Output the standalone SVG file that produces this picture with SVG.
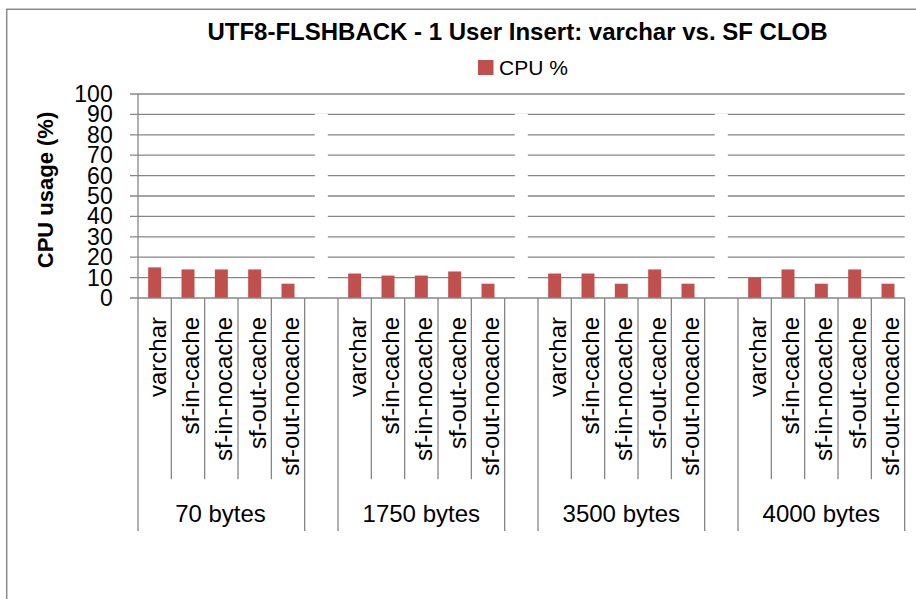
<svg xmlns="http://www.w3.org/2000/svg" width="916" height="599" viewBox="0 0 916 599">
<style>
.grid{stroke:#868686;stroke-width:1.3;fill:none}
.sep{stroke:#868686;stroke-width:1.3;fill:none}
.bar{fill:#C0504D}
.gap{fill:#FFFFFF}
.t{font-family:"Liberation Sans",Arial,sans-serif;fill:#000}
.ylab{font-size:23px;text-anchor:end}
.item{font-size:24px;text-anchor:end}
.grp{font-size:24px;text-anchor:middle}
</style>
<rect x="0" y="0" width="916" height="599" fill="#FFFFFF"/>
<path d="M6.7,599 V9.3 H916" stroke="#8a8a8a" stroke-width="1.5" fill="none"/>

<g id="title"><text class="t" x="517.5" y="40" font-size="24" font-weight="bold" text-anchor="middle">UTF8-FLSHBACK - 1 User Insert: varchar vs. SF CLOB</text></g>

<g id="legend">
<rect x="478" y="60" width="15.5" height="15" fill="#C0504D"/>
<text class="t" x="499" y="75" font-size="21">CPU %</text>
</g>

<g id="gridlines">
<path class="grid" d="M130,94 H904.7 M130,114.4 H904.7 M130,134.8 H904.7 M130,155.2 H904.7 M130,175.6 H904.7 M130,196 H904.7 M130,216.4 H904.7 M130,236.8 H904.7 M130,257.2 H904.7 M130,277.6 H904.7"/>
</g>

<g id="gaps">
<rect class="gap" x="314.83" y="113.6" width="13" height="184"/>
<rect class="gap" x="514.83" y="113.6" width="13" height="184"/>
<rect class="gap" x="714.83" y="113.6" width="13" height="184"/>
</g>

<g id="bars">
<rect class="bar" x="148.17" y="267.4" width="13" height="30.6"/>
<rect class="bar" x="181.5" y="269.44" width="13" height="28.56"/>
<rect class="bar" x="214.83" y="269.44" width="13" height="28.56"/>
<rect class="bar" x="248.17" y="269.44" width="13" height="28.56"/>
<rect class="bar" x="281.5" y="283.72" width="13" height="14.28"/>

<rect class="bar" x="348.17" y="273.52" width="13" height="24.48"/>
<rect class="bar" x="381.5" y="275.56" width="13" height="22.44"/>
<rect class="bar" x="414.83" y="275.56" width="13" height="22.44"/>
<rect class="bar" x="448.17" y="271.48" width="13" height="26.52"/>
<rect class="bar" x="481.5" y="283.72" width="13" height="14.28"/>

<rect class="bar" x="548.17" y="273.52" width="13" height="24.48"/>
<rect class="bar" x="581.5" y="273.52" width="13" height="24.48"/>
<rect class="bar" x="614.83" y="283.72" width="13" height="14.28"/>
<rect class="bar" x="648.17" y="269.44" width="13" height="28.56"/>
<rect class="bar" x="681.5" y="283.72" width="13" height="14.28"/>

<rect class="bar" x="748.17" y="277.6" width="13" height="20.4"/>
<rect class="bar" x="781.5" y="269.44" width="13" height="28.56"/>
<rect class="bar" x="814.83" y="283.72" width="13" height="14.28"/>
<rect class="bar" x="848.17" y="269.44" width="13" height="28.56"/>
<rect class="bar" x="881.5" y="283.72" width="13" height="14.28"/>
</g>

<g id="axes">
<path class="sep" d="M130,298 H904.7 M138,94 V298"/>
<path class="sep" d="M138,298 V531 M304.67,298 V531 M338,298 V531 M504.67,298 V531 M538,298 V531 M704.67,298 V531 M738,298 V531 M904.67,298 V531"/>
<path class="sep" d="M171.33,298 V479.3 M204.67,298 V479.3 M238,298 V479.3 M271.33,298 V479.3 M371.33,298 V479.3 M404.67,298 V479.3 M438,298 V479.3 M471.33,298 V479.3 M571.33,298 V479.3 M604.67,298 V479.3 M638,298 V479.3 M671.33,298 V479.3 M771.33,298 V479.3 M804.67,298 V479.3 M838,298 V479.3 M871.33,298 V479.3"/>
</g>

<g id="y-labels" class="t ylab">
<text x="112.7" y="102">100</text>
<text x="112.7" y="122.4">90</text>
<text x="112.7" y="142.8">80</text>
<text x="112.7" y="163.2">70</text>
<text x="112.7" y="183.6">60</text>
<text x="112.7" y="204">50</text>
<text x="112.7" y="224.4">40</text>
<text x="112.7" y="244.8">30</text>
<text x="112.7" y="265.2">20</text>
<text x="112.7" y="285.6">10</text>
<text x="112.7" y="306">0</text>
</g>

<g id="y-title"><text class="t" transform="translate(53,190) rotate(-90)" font-size="22" font-weight="bold" text-anchor="middle">CPU usage (%)</text></g>

<g id="item-labels" class="t item">
<text transform="translate(165.5,317) rotate(-90)">varchar</text>
<text transform="translate(198.8,317) rotate(-90)">sf-in-cache</text>
<text transform="translate(232.1,317) rotate(-90)">sf-in-nocache</text>
<text transform="translate(265.5,317) rotate(-90)">sf-out-cache</text>
<text transform="translate(298.8,317) rotate(-90)">sf-out-nocache</text>

<text transform="translate(365.5,317) rotate(-90)">varchar</text>
<text transform="translate(398.8,317) rotate(-90)">sf-in-cache</text>
<text transform="translate(432.1,317) rotate(-90)">sf-in-nocache</text>
<text transform="translate(465.5,317) rotate(-90)">sf-out-cache</text>
<text transform="translate(498.8,317) rotate(-90)">sf-out-nocache</text>

<text transform="translate(565.5,317) rotate(-90)">varchar</text>
<text transform="translate(598.8,317) rotate(-90)">sf-in-cache</text>
<text transform="translate(632.1,317) rotate(-90)">sf-in-nocache</text>
<text transform="translate(665.5,317) rotate(-90)">sf-out-cache</text>
<text transform="translate(698.8,317) rotate(-90)">sf-out-nocache</text>

<text transform="translate(765.5,317) rotate(-90)">varchar</text>
<text transform="translate(798.8,317) rotate(-90)">sf-in-cache</text>
<text transform="translate(832.1,317) rotate(-90)">sf-in-nocache</text>
<text transform="translate(865.5,317) rotate(-90)">sf-out-cache</text>
<text transform="translate(898.8,317) rotate(-90)">sf-out-nocache</text>
</g>

<g id="group-labels" class="t grp">
<text x="220.5" y="522">70 bytes</text>
<text x="421.3" y="522">1750 bytes</text>
<text x="621.3" y="522">3500 bytes</text>
<text x="821.3" y="522">4000 bytes</text>
</g>
</svg>
